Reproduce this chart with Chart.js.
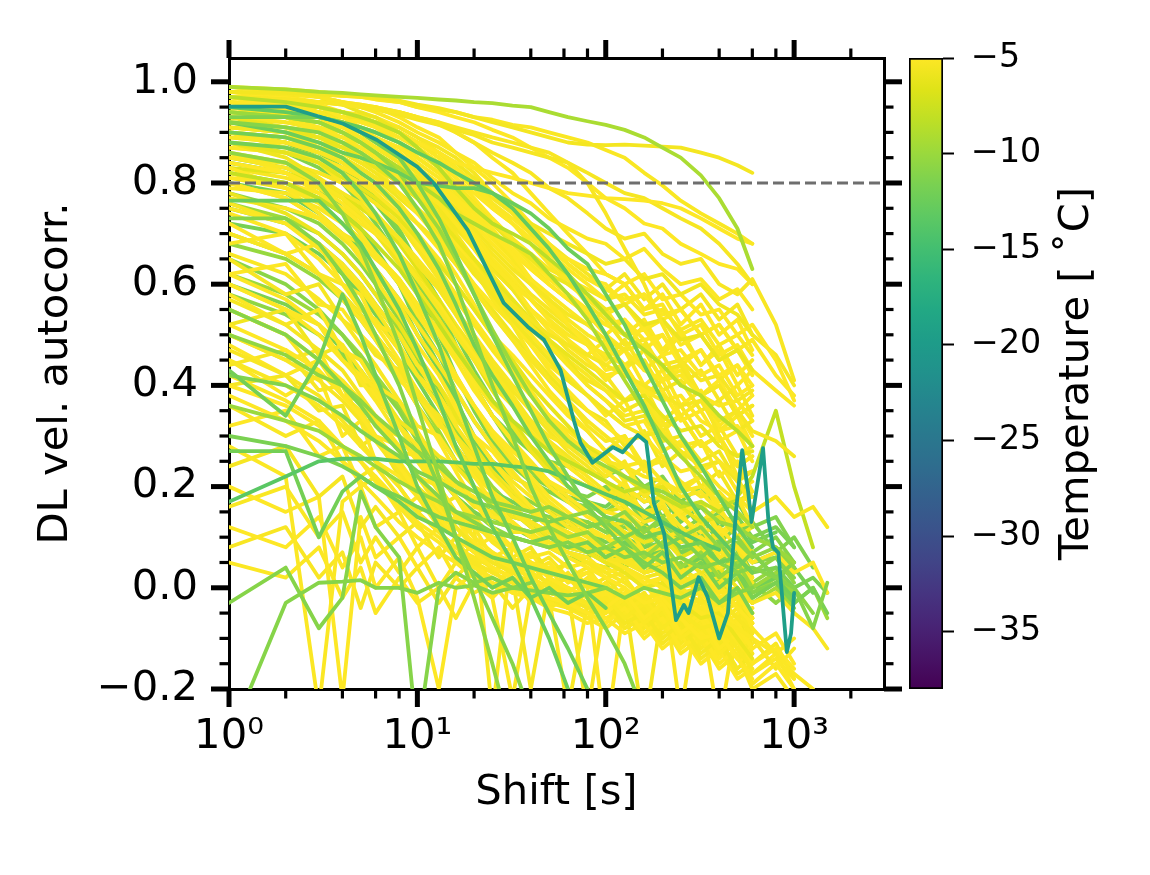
<!DOCTYPE html>
<html><head><meta charset="utf-8">
<script src="https://cdn.jsdelivr.net/npm/chart.js@4"></script>
<style>
html,body{margin:0;padding:0;background:#fff;}
#wrap{position:relative;width:1150px;height:875px;background:#fff;}
#main{position:absolute;left:0;top:0;}
#cbar{position:absolute;left:900px;top:0;}
</style>
</head><body>
<div id="wrap"><canvas id="main" width="1150" height="875"></canvas><canvas id="cbar" width="250" height="875"></canvas></div>
<script>
// ---------------- data ----------------
const shifts = [1,2,3,4,5,6,8,10,13,16,20,25,32,40,50,63,80,100,126,160,200,250,320,400,500,600,800,1000,1260,1500];

const outlierCurves = [
 [.99,.985,.98,.978,.975,.973,.97,.968,.965,.963,.96,.958,.953,.95,.94,.93,.922,.915,.905,.89,.87,.85,.815,.77,.71,.63],
 [.98,.978,.975,.972,.97,.968,.963,.955,.948,.94,.93,.92,.91,.9,.89,.88,.876,.875,.876,.874,.872,.87,.86,.85,.835,.82],
 [.98,.977,.975,.972,.97,.966,.96,.95,.945,.94,.93,.925,.915,.91,.9,.89,.88,.865,.85,.82,.795,.765,.74,.72,.7,.68],
 [.97,.965,.96,.955,.95,.945,.94,.93,.92,.91,.9,.89,.88,.87,.86,.84,.8,.74,.67,.6,.52,.45,.38,.3,.22,.15],
 [.96,.955,.95,.94,.93,.92,.9,.88,.86,.84,.83,.82,.81,.8,.79,.78,.775,.77,.768,.765,.76,.75,.73,.71,.69,.68],
 [.97,.965,.96,.955,.95,.945,.935,.925,.915,.905,.895,.88,.87,.86,.85,.84,.82,.8,.78,.77,.75,.73,.71,.68,.64,.6]
];
const outlierTemps = [-9.2,-5.5,-5.2,-5.3,-5,-5.4];

const yellowHighCurves = [
 [.99,.985,.98,.975,.97,.965,.96,.95,.94,.93,.92,.905,.89,.87,.85,.83,.8,.77,.75,.72,.71,.68,.66,.64,.63,.6],
 [.98,.975,.97,.96,.955,.95,.94,.93,.915,.9,.88,.86,.84,.82,.79,.77,.74,.71,.69,.7,.66,.64,.65,.6,.58,.61,.52,.41],
 [.99,.98,.97,.96,.95,.94,.92,.9,.88,.86,.84,.81,.78,.76,.73,.71,.69,.68,.65,.67,.63,.6,.61,.57,.59,.55],
 [.97,.96,.95,.94,.93,.92,.9,.88,.86,.84,.81,.78,.75,.72,.7,.68,.66,.64,.65,.61,.62,.58,.6,.56,.54,.5],
 [.98,.97,.955,.94,.93,.915,.89,.87,.84,.81,.78,.75,.72,.69,.67,.65,.63,.62,.6,.62,.57,.58,.54,.55,.5,.52,.45,.37],
 [.96,.95,.94,.92,.91,.9,.88,.85,.82,.79,.76,.72,.69,.66,.63,.61,.59,.57,.58,.54,.55,.51,.53,.48,.5,.46],
 [.99,.98,.97,.955,.94,.93,.9,.87,.83,.79,.76,.72,.68,.65,.62,.6,.58,.55,.56,.52,.53,.49,.5,.45,.47,.43],
 [.95,.94,.93,.91,.9,.88,.86,.83,.8,.77,.74,.7,.67,.63,.6,.57,.55,.52,.53,.49,.5,.45,.47,.42,.44,.4],
 [.97,.96,.94,.92,.9,.88,.85,.82,.78,.75,.71,.67,.63,.6,.57,.54,.52,.49,.47,.48,.44,.45,.41,.42,.37,.39],
 [.94,.93,.91,.89,.87,.85,.82,.79,.76,.72,.68,.64,.6,.57,.53,.5,.48,.46,.47,.43,.41,.42,.38,.36,.37,.33],
 [.98,.97,.95,.93,.91,.89,.86,.82,.78,.74,.69,.64,.6,.55,.51,.48,.45,.42,.43,.39,.37,.38,.33,.31,.32,.28],
 [.93,.91,.89,.87,.85,.83,.8,.77,.73,.69,.65,.61,.57,.53,.49,.46,.43,.4,.37,.38,.34,.31,.32,.28,.26,.27],
 [.96,.95,.93,.91,.89,.87,.84,.8,.76,.72,.67,.62,.57,.52,.48,.44,.4,.37,.34,.35,.31,.28,.29,.25,.22,.23],
 [.91,.9,.88,.86,.84,.82,.78,.75,.71,.67,.62,.58,.53,.49,.45,.41,.38,.35,.32,.3,.31,.27,.24,.25,.21,.18],
 [.97,.95,.93,.9,.88,.85,.81,.77,.72,.68,.63,.58,.53,.48,.43,.39,.35,.32,.29,.3,.26,.23,.24,.2,.17,.18],
 [.9,.88,.86,.84,.82,.8,.76,.72,.68,.64,.59,.54,.49,.45,.41,.37,.33,.3,.27,.24,.25,.21,.18,.19,.15,.12],
 [.95,.93,.9,.88,.85,.83,.78,.74,.69,.64,.59,.54,.49,.44,.39,.35,.31,.27,.24,.25,.21,.18,.19,.15,.12,.13],
 [.88,.86,.84,.81,.79,.77,.73,.69,.64,.6,.55,.5,.45,.4,.36,.32,.28,.25,.22,.19,.2,.16,.13,.14,.1,.07],
 [.92,.9,.87,.84,.81,.78,.73,.68,.63,.58,.53,.48,.43,.38,.34,.3,.26,.23,.2,.17,.18,.14,.11,.12,.08,.05],
 [.86,.84,.81,.78,.76,.73,.69,.64,.59,.54,.49,.44,.39,.35,.31,.27,.24,.21,.18,.15,.16,.12,.09,.1,.06,.03],
 [.9,.87,.84,.8,.77,.74,.69,.64,.59,.54,.48,.43,.38,.33,.29,.25,.22,.19,.16,.13,.14,.1,.07,.08,.04,.01],
 [.84,.82,.79,.76,.73,.7,.66,.61,.56,.51,.46,.41,.36,.31,.27,.24,.21,.18,.15,.12,.1,.11,.07,.04,.05,.01],
 [.88,.85,.81,.77,.73,.7,.64,.59,.53,.48,.42,.37,.32,.27,.23,.2,.17,.14,.11,.09,.1,.06,.03,.04,0,-.03],
 [.82,.79,.76,.72,.69,.66,.61,.56,.5,.45,.39,.34,.29,.25,.21,.18,.15,.12,.1,.07,.08,.04,.01,.02,-.02,-.05],
 [.86,.82,.78,.74,.7,.66,.6,.54,.48,.42,.36,.31,.26,.22,.18,.15,.12,.1,.07,.05,.06,.02,-.01,0,-.04,-.07],
 [.8,.77,.73,.69,.66,.62,.56,.5,.44,.39,.33,.28,.23,.19,.16,.13,.1,.08,.06,.03,.04,0,-.03,-.02,-.06,-.09],
 [.83,.79,.74,.7,.65,.61,.54,.48,.42,.36,.3,.25,.2,.16,.13,.1,.08,.06,.04,.01,.02,-.02,-.05,-.04,-.08,-.12],
 [.78,.74,.7,.66,.62,.58,.52,.46,.4,.34,.28,.23,.18,.15,.12,.09,.07,.05,.03,0,.01,-.03,-.06,-.05,-.1,-.14],
 [.76,.72,.67,.63,.59,.55,.48,.42,.36,.3,.24,.19,.15,.12,.09,.07,.05,.03,.01,-.02,-.01,-.05,-.08,-.07,-.12,-.16],
 [.74,.7,.65,.6,.56,.52,.45,.39,.33,.27,.22,.17,.13,.1,.08,.06,.04,.02,0,-.03,-.02,-.06,-.1,-.09,-.14,-.18],
 [.97,.97,.96,.96,.95,.95,.94,.93,.92,.9,.88,.85,.82,.78,.74,.7,.66,.62,.6,.55,.56,.5,.52,.46,.48,.43,.39,.36],
 [.95,.95,.94,.93,.93,.92,.91,.89,.87,.85,.82,.78,.74,.7,.65,.61,.56,.53,.48,.49,.43,.44,.38,.4,.34,.36],
 [.93,.93,.92,.91,.9,.89,.87,.85,.82,.79,.75,.71,.66,.61,.57,.52,.48,.43,.44,.38,.39,.33,.35,.29,.31,.25],
 [.91,.9,.89,.88,.87,.86,.83,.81,.77,.73,.69,.64,.59,.54,.49,.45,.4,.37,.33,.34,.29,.3,.25,.27,.21,.23],
 [.89,.88,.87,.86,.84,.83,.8,.77,.73,.68,.63,.57,.52,.46,.41,.37,.32,.29,.3,.24,.26,.2,.22,.16,.18,.12],
 [.87,.86,.85,.83,.81,.79,.76,.72,.67,.62,.56,.5,.44,.39,.34,.3,.27,.23,.24,.19,.2,.15,.17,.11,.13,.07],
 [.85,.84,.82,.8,.78,.76,.72,.67,.61,.55,.49,.43,.37,.32,.28,.24,.21,.18,.19,.14,.16,.1,.12,.06,.08,.02],
 [.83,.82,.8,.78,.75,.73,.68,.63,.57,.51,.45,.39,.33,.28,.24,.2,.17,.15,.16,.1,.12,.06,.08,.02,.03,-.03],
 [.81,.8,.78,.75,.72,.7,.65,.59,.53,.47,.4,.34,.29,.24,.2,.17,.14,.12,.13,.07,.09,.03,.05,-.02,0,-.06],
 [.79,.78,.75,.72,.69,.66,.61,.55,.48,.42,.36,.3,.25,.21,.17,.14,.12,.1,.11,.05,.07,0,.02,-.05,-.03,-.1],
 [.96,.955,.95,.94,.93,.92,.9,.88,.85,.82,.79,.76,.73,.7,.67,.64,.61,.59,.57,.58,.54,.55,.5,.52,.47,.49,.42,.38],
 [.94,.93,.92,.9,.89,.87,.85,.82,.79,.76,.73,.7,.66,.63,.6,.57,.54,.52,.5,.51,.46,.47,.42,.44,.38,.4],
 [.92,.91,.89,.88,.86,.84,.81,.78,.75,.71,.68,.64,.6,.57,.54,.51,.48,.46,.44,.45,.39,.41,.35,.37,.31,.33],
 [.9,.89,.87,.85,.83,.81,.78,.74,.71,.67,.63,.59,.55,.51,.48,.45,.42,.39,.37,.38,.32,.34,.28,.3,.24,.26],
 [.88,.87,.85,.83,.81,.79,.75,.72,.68,.64,.6,.56,.52,.48,.44,.41,.38,.35,.32,.33,.27,.29,.23,.25,.19,.21]
];
const yellowHighTemps = [-5,-5.3,-5.1,-5.6,-5,-5.2,-5.8,-5,-5.4,-5.1,-5,-6,-5.2,-5.5,-5,-5.3,-5.1,-6.2,-5,-5.4,-5.2,-5,-5.7,-5.1,-5,-5.3,-5,-5.9,-5.2,-5,-5.1,-5.4,-5,-5.6,-5.2,-5,-5.3,-6.5,-5,-5.2,-5.1,-5,-5.5,-5.2,-5];

const yellowExtraCurves = [
 [.96,.95,.94,.93,.92,.91,.89,.87,.84,.81,.77,.73,.69,.65,.61,.58,.55,.5,.53,.47,.5,.44,.47,.41,.44,.38],
 [.94,.935,.93,.92,.91,.9,.88,.85,.82,.78,.74,.7,.65,.61,.57,.53,.5,.48,.44,.47,.41,.43,.38,.4,.34,.36],
 [.92,.91,.9,.89,.88,.87,.85,.82,.78,.74,.7,.65,.61,.57,.53,.49,.45,.41,.44,.38,.41,.34,.37,.31,.34,.28],
 [.9,.89,.88,.87,.86,.84,.81,.78,.74,.7,.65,.6,.56,.52,.48,.44,.41,.39,.35,.37,.31,.34,.28,.3,.24,.26],
 [.95,.94,.93,.915,.9,.89,.86,.83,.8,.76,.72,.68,.64,.6,.56,.52,.48,.44,.47,.4,.43,.36,.39,.32,.35,.3],
 [.93,.92,.905,.89,.88,.86,.83,.8,.76,.72,.68,.63,.59,.55,.51,.47,.44,.42,.37,.4,.33,.36,.3,.32,.26,.28],
 [.91,.9,.89,.87,.86,.84,.8,.77,.73,.69,.64,.59,.54,.5,.46,.42,.38,.34,.37,.3,.33,.26,.29,.22,.25,.19],
 [.89,.88,.86,.85,.83,.81,.77,.74,.7,.65,.6,.55,.5,.46,.42,.38,.35,.33,.28,.31,.24,.27,.2,.23,.17,.19],
 [.87,.86,.84,.82,.8,.78,.74,.7,.65,.6,.55,.5,.46,.42,.38,.34,.31,.27,.3,.23,.26,.19,.22,.15,.18,.12],
 [.85,.84,.82,.8,.78,.76,.72,.67,.62,.57,.52,.47,.42,.38,.34,.31,.28,.26,.21,.24,.17,.2,.13,.16,.1,.12],
 [.97,.96,.95,.94,.935,.93,.91,.89,.86,.83,.8,.76,.72,.68,.64,.6,.57,.54,.56,.51,.53,.48,.5,.45,.47,.42],
 [.98,.975,.97,.96,.955,.95,.93,.91,.89,.86,.83,.8,.76,.72,.68,.64,.61,.6,.56,.58,.53,.55,.5,.52,.47,.49],
 [.83,.81,.79,.77,.75,.73,.69,.65,.6,.55,.5,.45,.4,.36,.32,.28,.25,.22,.25,.18,.21,.14,.17,.1,.13,.06],
 [.81,.79,.77,.75,.73,.7,.66,.62,.57,.52,.47,.42,.37,.33,.29,.26,.23,.21,.17,.19,.13,.15,.09,.11,.05,.07],
 [.77,.75,.73,.7,.68,.65,.61,.56,.51,.46,.41,.36,.32,.28,.25,.22,.2,.18,.21,.14,.17,.1,.13,.06,.08,.02],
 [.7,.66,.62,.57,.53,.49,.42,.36,.29,.23,.17,.12,.08,.05,.02,0,-.02,-.04,-.01,-.06,-.03,-.09,-.06,-.12,-.09,-.15,-.12,-.16],
 [.66,.62,.57,.53,.48,.44,.37,.31,.24,.18,.13,.09,.06,.03,.01,-.01,-.03,-.02,-.06,-.03,-.08,-.05,-.11,-.08,-.14,-.12],
 [.62,.57,.52,.48,.43,.39,.32,.26,.2,.15,.1,.07,.04,.02,0,-.02,-.03,-.05,-.02,-.07,-.04,-.1,-.07,-.13,-.1,-.17,-.14,-.18],
 [.57,.52,.47,.43,.38,.34,.28,.22,.17,.12,.08,.05,.03,.01,-.01,-.02,-.04,-.03,-.07,-.05,-.1,-.07,-.13,-.1,-.16,-.13],
 [.52,.47,.43,.38,.34,.3,.24,.19,.14,.1,.07,.04,.02,0,-.02,-.03,-.05,-.07,-.04,-.09,-.06,-.12,-.09,-.15,-.12,-.19,-.15,-.2],
 [.47,.42,.38,.33,.29,.25,.2,.15,.11,.08,.05,.03,.01,-.01,-.02,-.04,-.05,-.04,-.08,-.06,-.11,-.08,-.14,-.11,-.17,-.15],
 [.42,.37,.33,.28,.25,.21,.16,.12,.09,.06,.04,.02,0,-.02,-.03,-.04,-.06,-.08,-.05,-.1,-.07,-.13,-.1,-.16,-.13,-.2,-.17,-.22],
 [.38,.33,.29,.25,.21,.18,.13,.1,.07,.05,.03,.01,-.01,-.02,-.04,-.05,-.07,-.06,-.09,-.07,-.12,-.09,-.15,-.12,-.18,-.16]
];
const yellowExtraTemps = [-5,-5.2,-5.1,-5.4,-5,-5.3,-5.1,-5.6,-5,-5.2,-5.1,-5,-5.3,-5.5,-5.1,-5,-5.2,-5.1,-5.4,-5,-5.3,-5.1,-5];

const yellowTailCurves = [
 [.97,.96,.95,.94,.93,.92,.9,.88,.85,.82,.79,.75,.72,.69,.66,.63,.6,.57,.6,.55,.58,.52,.56,.5,.53,.47],
 [.96,.95,.94,.93,.92,.91,.88,.86,.83,.8,.76,.72,.68,.64,.6,.57,.54,.5,.47,.52,.46,.5,.44,.48,.42,.45],
 [.95,.94,.93,.92,.9,.89,.87,.84,.81,.77,.73,.69,.65,.61,.58,.55,.52,.55,.5,.53,.47,.51,.44,.47,.4,.43],
 [.93,.92,.91,.9,.88,.87,.84,.81,.78,.74,.7,.66,.62,.58,.55,.52,.49,.45,.49,.43,.46,.4,.43,.37,.4,.34],
 [.92,.91,.9,.88,.87,.85,.82,.79,.75,.71,.67,.63,.59,.55,.52,.49,.46,.49,.43,.47,.41,.44,.38,.41,.35,.38],
 [.95,.945,.94,.93,.925,.92,.9,.88,.86,.83,.8,.77,.74,.71,.68,.65,.62,.59,.62,.57,.6,.55,.58,.53,.56,.5,.46,.4],
 [.6,.55,.5,.45,.41,.37,.3,.25,.19,.14,.1,.07,.05,.03,.01,0,-.02,-.01,-.05,-.02,-.07,-.04,-.09,-.06,-.11,-.08,-.13,-.1],
 [.55,.5,.45,.41,.37,.33,.27,.22,.16,.12,.09,.06,.04,.02,0,-.01,-.03,-.05,-.02,-.06,-.04,-.08,-.05,-.1,-.07,-.12,-.09,-.15],
 [.5,.45,.41,.37,.33,.29,.23,.18,.13,.1,.07,.05,.03,.01,-.01,-.02,-.04,-.02,-.07,-.04,-.09,-.06,-.12,-.08,-.14,-.1,-.16,-.12],
 [.45,.4,.36,.32,.28,.25,.2,.15,.11,.08,.06,.04,.02,0,-.02,-.03,-.05,-.07,-.03,-.08,-.05,-.11,-.07,-.13,-.09,-.15,-.11,-.18],
 [.4,.36,.32,.28,.25,.22,.17,.13,.1,.07,.05,.03,.01,-.01,-.02,-.04,-.03,-.06,-.04,-.09,-.06,-.12,-.08,-.14,-.1,-.17,-.13,-.2]
];
const yellowTailTemps = [-5,-5.2,-5.1,-5.3,-5,-5.4,-5.1,-5,-5.3,-5.2,-5];

const yellowMidCurves = [
 [.72,.66,.68,.6,.58,.52,.5,.44,.4,.35,.3,.27,.22,.2,.16,.14,.11,.1,.08,.06,.05,.03,.02,-.01,0,-.03],
 [.68,.7,.62,.6,.55,.53,.47,.42,.38,.33,.3,.25,.21,.18,.15,.12,.1,.07,.08,.04,.05,.01,.03,-.02,0,-.05],
 [.65,.58,.6,.53,.5,.46,.43,.38,.34,.3,.26,.23,.19,.16,.13,.11,.09,.08,.05,.06,.02,.03,-.01,.01,-.04,-.02],
 [.62,.64,.56,.55,.5,.47,.41,.38,.32,.3,.25,.22,.18,.16,.12,.11,.08,.06,.07,.03,.04,0,.02,-.03,-.01,-.06],
 [.58,.52,.55,.47,.45,.4,.37,.32,.3,.25,.22,.19,.16,.13,.11,.09,.07,.05,.06,.03,.04,0,.01,-.03,-.02,-.06],
 [.52,.55,.46,.48,.4,.4,.33,.3,.26,.24,.2,.18,.14,.13,.1,.08,.07,.05,.04,.02,.03,-.01,0,-.04,-.02,-.07],
 [.48,.42,.45,.38,.37,.32,.3,.25,.24,.2,.18,.14,.13,.1,.09,.07,.06,.03,.04,0,.02,-.02,-.01,-.05,-.03,-.08],
 [.44,.47,.39,.4,.33,.33,.27,.26,.21,.2,.16,.15,.11,.11,.08,.07,.05,.04,.02,.02,0,0,-.03,-.02,-.06,-.04]
];
const yellowMidTemps = [-5,-5.2,-5.4,-5,-5.1,-5.6,-5,-5.3];

const yellowLowCurves = [
 [.6,.55,.52,.45,.42,.38,.32,.28,.22,.18,.14,.1,.08,.05,.04,.02,.03,0,-.02,.01,-.03,-.01,-.05,-.27,-.06,-.04],
 [.55,.5,.42,.4,.33,.3,.25,.2,.15,.12,.08,.06,.03,.05,0,.02,-.02,.01,-.04,-.01,-.06,-.02,-.08,-.05,-.1,-.07],
 [.5,.45,.47,.38,.35,.3,.28,.22,.2,.15,.12,.1,.08,.06,.07,.04,.05,.02,.03,0,.02,-.25,0,-.04,-.02,-.06],
 [.45,.38,.42,.3,.33,.25,.22,.18,.14,.1,.12,.06,.08,.03,.05,.01,.03,-.02,0,-.04,-.01,-.06,-.03,-.08,-.05,-.1],
 [.4,.42,.35,.36,.28,.3,.22,.2,.16,.18,.12,.1,.06,.08,.03,.05,0,.02,-.02,-.28,-.04,-.02,-.07,-.04,-.09,-.06],
 [.36,.3,.33,.25,.22,.24,.18,.15,.17,.1,.12,-.25,.09,.04,.06,.02,.04,-.01,.02,-.03,0,-.05,-.02,-.07,-.04,-.09],
 [.32,.35,.26,.28,.2,.22,.15,.18,.12,.14,.08,.1,.05,.07,.02,.05,0,-.3,-.02,.01,-.04,-.01,-.06,-.03,-.08,-.05],
 [.28,.22,-.24,.17,.2,.12,.15,.08,.12,.05,.09,.03,.06,.01,.04,-.01,.02,-.03,0,-.05,-.02,-.07,-.04,-.09,-.06,-.12],
 [.24,.28,.18,.22,.12,.16,.1,.13,.06,.1,.04,.07,.02,-.2,0,.03,-.02,.01,-.04,-.01,-.06,-.03,-.08,-.05,-.1,-.07],
 [.2,.15,.18,-.22,.14,.06,.1,.04,.08,.02,.06,0,.04,-.02,.02,-.03,.01,-.04,-.01,-.06,-.03,-.08,-.05,-.1,-.07,-.12],
 [.16,.2,.1,.15,.05,.1,.03,.08,0,.05,.02,.04,-.01,.03,-.02,-.24,-.03,0,-.05,-.02,-.06,-.04,-.09,-.06,-.11,-.08],
 [.12,.08,.14,.04,.1,0,.06,-.02,-.2,0,.03,-.02,.02,-.03,0,-.04,-.01,-.05,-.02,-.07,-.04,-.09,-.06,-.11,-.08,-.13],
 [.08,.12,.02,.07,-.04,.05,0,.04,-.03,.02,-.01,.01,-.04,0,-.03,-.01,-.25,-.02,-.06,-.03,-.08,-.05,-.1,-.07,-.12,-.09],
 [.05,.02,.08,-.02,.04,-.05,.02,-.03,0,-.06,.01,-.02,-.22,-.01,-.04,-.02,-.06,-.03,-.08,-.05,-.1,-.07,-.12,-.09,-.14,-.11]
];
const yellowLowTemps = [-5,-5.3,-5.1,-5,-5.5,-5.2,-5,-5.1,-5.4,-5,-5.2,-5,-5.3,-5.1];

const longCurves = [
 [.85,.83,.8,.77,.74,.71,.66,.61,.55,.5,.45,.4,.36,.33,.3,.28,.27,.25,.24,.22,.21,.19,.2,.17,.18,.15,.18,.14,.16,.12],
 [.8,.77,.73,.7,.66,.63,.57,.52,.46,.41,.36,.31,.27,.24,.21,.19,.17,.15,.14,.12,.11,.09,.1,.07,.08,.05,.07,.03,.05,-.01],
 [.7,.66,.62,.58,.54,.5,.44,.39,.33,.28,.23,.19,.16,.13,.11,.09,.08,.06,.05,.03,.04,.01,.02,-.01,0,-.03,-.01,-.05,-.08,-.12],
 [.75,.72,.68,.64,.6,.56,.5,.44,.38,.32,.27,.22,.18,.15,.12,.1,.08,.06,.04,.02,0,-.02,-.04,-.06,-.08,-.1,-.13,-.17,-.2],
 [.9,.89,.87,.85,.83,.81,.78,.75,.71,.67,.63,.59,.56,.53,.5,.48,.46,.44,.42,.4,.38,.36,.37,.33,.35,.31,.29,.26],
 [.82,.8,.77,.74,.71,.68,.63,.58,.52,.47,.42,.37,.33,.3,.27,.25,.23,.21,.19,.2,.18,.16,.17,.15,.18,.22,.35,.2,.08]
];
const longTemps = [-5.2,-5,-5.3,-5.1,-5.4,-8];

// distinct green lines drawn above the yellow mass
const greenTopCurves = [
 [.88,.87,.85,.82,.78,.74,.66,.58,.48,.38,.28,.18,.1,.02,-.05,-.12,-.2,-.3],
 [.92,.91,.9,.88,.86,.84,.8,.75,.68,.6,.5,.4,.3,.2,.12,.05,-.02,-.08,-.15,-.25],
 [.765,.765,.765,.72,.68,.63,.55,.47,.37,.28,.2,.12,.05,-.02,-.1,-.2,-.3],
 [.73,.73,.68,.62,.56,.5,.4,.3,.2,.1,.02,-.06,-.15,-.25],
 [.93,.93,.93,.92,.9,.88,.85,.8,.73,.66,.58,.5,.42,.35,.28,.22,.16,.12,.08,.05,.03,0,.02,-.03,0,-.05],
 [.86,.84,.8,.74,.67,.6,.48,.36,.22,.1,-.02,-.15,-.3],
 [.9,.89,.87,.85,.82,.8,.75,.7,.63,.56,.48,.42,.36,.3,.25,.2,.17,.14,.13,.1,.11,.08,.09,.05,.06,.03],
 [.43,.34,.45,.58,.5,.42,.3,.2,.12,.06,.03,0,.02,-.02,0,-.03,-.01,-.04],
 [.95,.94,.93,.92,.91,.9,.88,.86,.84,.82,.8,.78,.75,.71,.67,.62,.56,.5,.43,.36,.28,.2,.14,.1,.06,.03],
 [.92,.9,.88,.86,.85,.84,.82,.8,.795,.79,.79,.78,.76,.74,.71,.67,.64,.58,.52,.44,.37,.3,.24,.18,.12,.08],
 [.17,.22,.25,.255,.255,.255,.25,.25,.25,.248,.245,.245,.24,.237,.23,.215,.2,.185,.17,.15,.13,.11,.09,.075],
 [-.3,-.03,.01,.012,.015,0,0,-.01,.01,0,.005,-.01,0,-.005,-.01,-.015,-.01,0,-.02,0,-.01,-.02,0,-.03,-.01,0],
 [-.03,.04,-.08,-.02,.19,.12,.06,-.3,0,.03,.01,.02,0,.01],
 [.27,.27,.1,.19,.22,.2,.17,.14,.12,.1,.08,.06,.05,.04,.03,.02,.01,0],
 [.94,.93,.92,.9,.88,.86,.82,.77,.71,.65,.58,.51,.44,.38,.33,.29,.26,.24,.22,.2,.19,.17,.16,.13,.12,.1,.08,.05],
 [.55,.5,.45,.4,.36,.32,.27,.22,.18,.15,.13,.11,.1,.09,.08,.09,.07,.08,.06,.07,.05,.06,.04,.05,.03,.04,.02,0,-.08,.01],
 [.97,.96,.95,.94,.93,.92,.9,.87,.83,.79,.75,.72,.7,.68,.65,.62,.58,.54,.5,.47,.44,.4,.38,.34,.31,.28],
 [.94,.93,.92,.9,.88,.86,.83,.8,.77,.74,.72,.7,.68,.66,.62,.58,.53,.47,.41,.35,.3,.26,.22,.18,.15,.12],
 [.5,.46,.42,.4,.37,.34,.3,.27,.24,.21,.19,.17,.16,.15,.16,.14,.15,.13,.15,.11,.14,.1,.12,.08,.1,.06,.08,.04],
 [.42,.4,.37,.34,.31,.29,.26,.23,.21,.19,.17,.16,.15,.14,.13,.14,.12,.13,.1,.12,.08,.1,.06,.09,.04,.07,.02,.05],
 [.36,.33,.31,.28,.26,.24,.21,.19,.17,.15,.14,.13,.12,.11,.12,.1,.11,.08,.1,.06,.09,.04,.07,.02,.05,0,.03,-.01],
 [.3,.28,.26,.24,.22,.2,.18,.16,.14,.13,.12,.11,.1,.09,.1,.08,.09,.06,.08,.04,.07,.02,.05,0,.03,-.02,.01,-.03,0,-.05]
];
const greenTopTemps = [-12,-11,-12.5,-11,-11.5,-10.5,-12,-12,-13,-12.5,-13.5,-11,-11,-12,-10,-11,-8.5,-9,-10.5,-11.2,-10,-11.6];

// green lines of the lower-right band, drawn beneath the yellow mass
const greenBandCurves = [
 [.9,.88,.85,.82,.79,.76,.7,.64,.57,.5,.43,.37,.31,.27,.24,.22,.2,.19,.2,.17,.18,.15,.16,.13,.14,.1,.12,.08],
 [.85,.83,.8,.77,.74,.71,.66,.6,.54,.47,.4,.34,.28,.23,.2,.17,.15,.13,.15,.11,.13,.09,.11,.07,.09,.05,.07,.03],
 [.8,.78,.74,.7,.67,.63,.57,.5,.43,.36,.29,.24,.19,.15,.12,.1,.09,.07,.09,.06,.08,.04,.06,.02,.04,0,.02,-.02],
 [.75,.72,.68,.64,.6,.56,.5,.43,.36,.3,.24,.19,.15,.12,.1,.09,.07,.06,.08,.05,.07,.03,.05,.01,.03,-.01,.01,-.03],
 [.7,.66,.62,.58,.54,.5,.44,.38,.31,.25,.2,.16,.12,.1,.08,.06,.05,.04,.06,.03,.05,.01,.03,-.01,.02,-.03,0,-.05],
 [.6,.56,.52,.47,.43,.39,.33,.27,.22,.18,.15,.13,.12,.11,.12,.1,.11,.09,.1,.08,.09,.07,.08,.05,.06,.03,.04,0,.02,-.01],
 [.65,.6,.55,.5,.45,.41,.35,.29,.24,.2,.17,.15,.14,.13,.14,.12,.13,.11,.12,.1,.11,.09,.1,.07,.08,.05,.06,.02],
 [.82,.8,.77,.74,.7,.66,.6,.53,.46,.39,.33,.28,.24,.21,.19,.17,.16,.15,.18,.13,.16,.11,.14,.09,.12,.07,.1,.05],
 [.78,.75,.72,.68,.64,.6,.53,.46,.39,.32,.26,.22,.19,.17,.15,.14,.13,.11,.14,.09,.12,.07,.1,.05,.08,.03,.06,.01],
 [.72,.7,.66,.62,.58,.54,.47,.41,.34,.28,.23,.19,.17,.15,.14,.13,.12,.14,.1,.13,.08,.11,.06,.09,.04,.07,.02,.04,-.01],
 [.68,.65,.61,.57,.53,.49,.42,.36,.3,.25,.2,.17,.15,.14,.13,.12,.11,.1,.13,.08,.11,.06,.09,.03,.07,.01,.04,-.02],
 [.88,.86,.83,.8,.76,.72,.65,.58,.5,.42,.35,.29,.25,.22,.2,.19,.18,.2,.16,.19,.14,.17,.12,.15,.1,.13,.07,.1,.04],
 [.62,.58,.54,.5,.46,.42,.36,.3,.25,.21,.17,.14,.12,.1,.09,.08,.07,.06,.09,.04,.07,.02,.05,0,.03,-.02,.01,-.04],
 [.84,.82,.79,.75,.71,.67,.6,.52,.44,.37,.3,.25,.22,.2,.19,.18,.17,.16,.19,.15,.18,.13,.16,.12,.14,.09,.11],
 [.58,.54,.5,.46,.42,.38,.32,.27,.22,.18,.15,.12,.1,.09,.08,.07,.06,.08,.04,.07,.02,.05,0,.03,-.02,.01,-.03,0,-.05],
 [.9,.88,.86,.83,.8,.77,.71,.64,.56,.48,.4,.34,.3,.27,.25,.24,.23,.22,.24,.2,.22,.17,.2,.15,.17,.12,.14,.08],
 [.76,.73,.7,.66,.62,.58,.51,.45,.38,.31,.25,.2,.16,.13,.11,.1,.09,.07,.1,.05,.08,.03,.06,.01,.04,-.01,.02,-.03,0,-.06]
];
const greenBandTemps = [-11.5,-10.5,-12,-11,-9.5,-11.5,-10.8,-11,-10.5,-11.8,-10.2,-11.3,-10,-12,-10.6,-11.2,-9.8];

const tealShift = [1,2,4.04,6.1,10,12.2,18.5,28.7,38.5,47,57.6,67.8,73.6,85,109,123,148,164,180,204,236,260,275,311,347,400,445,494,530,570,594,684,730,773,825,915,963,1000];
const tealValue = [.951,.951,.917,.885,.832,.80,.707,.563,.516,.49,.43,.33,.286,.247,.278,.268,.302,.288,.168,.108,-.064,-.034,-.05,.021,-.018,-.1,-.05,.16,.272,.19,.13,.276,.134,.08,.069,-.127,-.09,-.01];
const tealTemp = -19.5;

const thresholdValue = 0.8;
const xRange = [1, 3000];
const yRange = [-0.2, 1.047];
const xLabelTicks = [1, 10, 100, 1000];
const xMinorTicks = [2,4,6,8,20,40,60,80,200,400,600,800,2000];
const yMajorTicks = [-0.2, 0, 0.2, 0.4, 0.6, 0.8, 1.0];
const yMinorTicks = [-0.15,-0.1,-0.05,0.05,0.1,0.15,0.25,0.3,0.35,0.45,0.5,0.55,0.65,0.7,0.75,0.85,0.9,0.95];
const cbRange = [-38, -5];
const cbTicks = [-35, -30, -25, -20, -15, -10, -5];
const viridisStops = ['#440154','#471365','#482475','#463480','#414487','#3b528b','#355f8d','#2f6c8e','#2a788e','#25848e','#21918c','#1e9c89','#22a884','#2fb47c','#44bf70','#5ec962','#7ad151','#9bd93c','#bddf26','#dfe318','#fde725'];

// ---------------- helpers ----------------
const FONT = 'DejaVu Sans';
Chart.defaults.font.family = FONT;
Chart.defaults.color = '#000';
const minus = s => s.replace('-', '\u2212');
function hexToRgb(h){ return [parseInt(h.slice(1,3),16), parseInt(h.slice(3,5),16), parseInt(h.slice(5,7),16)]; }
function tempColor(temp){
  let t = (temp - cbRange[0]) / (cbRange[1] - cbRange[0]);
  t = Math.max(0, Math.min(1, t));
  const f = t * (viridisStops.length - 1);
  const i = Math.min(Math.floor(f), viridisStops.length - 2);
  const a = hexToRgb(viridisStops[i]), b = hexToRgb(viridisStops[i+1]);
  const k = f - i;
  const c = a.map((v, j) => Math.round(v + (b[j] - v) * k));
  return `rgb(${c[0]},${c[1]},${c[2]})`;
}

const LW = 3.8;
const datasets = [];
function lineDs(points, color, width, order, extra){
  return Object.assign({
    data: points, borderColor: color, borderWidth: width, pointRadius: 0,
    tension: 0, fill: false, order: order, clip: 0,
    borderJoinStyle: 'round', borderCapStyle: 'round',
    xAxisID: 'x', yAxisID: 'y'
  }, extra || {});
}
function addGroup(curves, temps, order){
  curves.forEach((vals, i) => {
    const pts = [];
    vals.forEach((v, j) => { if (j < shifts.length) pts.push({x: shifts[j], y: v}); });
    datasets.push(lineDs(pts, tempColor(temps[i]), LW, order));
  });
}
datasets.push(lineDs([{x: xRange[0], y: thresholdValue}, {x: xRange[1], y: thresholdValue}], '#6e6e6e', 3, 0, {borderDash: [11, 5], borderCapStyle: 'butt'}));
datasets.push(lineDs(tealShift.map((s, i) => ({x: s, y: tealValue[i]})), tempColor(tealTemp), LW, 1));
addGroup(greenTopCurves, greenTopTemps, 2);
addGroup(outlierCurves, outlierTemps, 3);
addGroup(longCurves, longTemps, 4);
addGroup(yellowHighCurves, yellowHighTemps, 5);
addGroup(yellowExtraCurves, yellowExtraTemps, 6);
addGroup(yellowTailCurves, yellowTailTemps, 6);
addGroup(yellowMidCurves, yellowMidTemps, 7);
addGroup(yellowLowCurves, yellowLowTemps, 8);
addGroup(greenBandCurves, greenBandTemps, 9);

const supDigits = {'0':'\u2070','1':'\u00b9','2':'\u00b2','3':'\u00b3'};

const tickMarks = {
  id: 'tickMarks',
  afterDraw(chart){
    const {ctx, chartArea: a} = chart;
    const sx = chart.scales.x, sy = chart.scales.y;
    ctx.save();
    ctx.strokeStyle = '#000';
    ctx.lineCap = 'butt';
    const seg = (x1, y1, x2, y2, w) => { ctx.lineWidth = w; ctx.beginPath(); ctx.moveTo(x1, y1); ctx.lineTo(x2, y2); ctx.stroke(); };
    [[xLabelTicks, 18, 5], [xMinorTicks, 9.5, 3.2]].forEach(([list, len, w]) => list.forEach(v => {
      const p = sx.getPixelForValue(v);
      if (p < a.left - 1 || p > a.right + 1) return;
      seg(p, a.bottom, p, a.bottom + len, w);
      seg(p, a.top, p, a.top - len, w);
    }));
    [[yMajorTicks, 18, 5], [yMinorTicks, 9.5, 3.2]].forEach(([list, len, w]) => list.forEach(v => {
      const p = sy.getPixelForValue(v);
      seg(a.left, p, a.left - len, p, w);
      seg(a.right, p, a.right + len, p, w);
    }));
    ctx.restore();
  }
};

const axisBorder = {display: true, color: '#000', width: 3};
const noGrid = {drawOnChartArea: false, drawTicks: false, color: 'rgba(0,0,0,0)'};

new Chart(document.getElementById('main'), {
  type: 'line',
  data: {datasets},
  options: {
    responsive: false, animation: false, devicePixelRatio: 1, events: [],
    layout: {padding: 0},
    plugins: {legend: {display: false}, tooltip: {enabled: false}},
    scales: {
      x: {
        type: 'logarithmic', axis: 'x', position: 'bottom', min: xRange[0], max: xRange[1], z: 1,
        border: axisBorder, grid: noGrid,
        afterBuildTicks: s => { s.ticks = xLabelTicks.map(v => ({value: v})); },
        afterFit: s => { s.height = 186; },
        ticks: {autoSkip: false, maxRotation: 0, padding: 23, color: '#000', font: {size: 41.7},
          callback: v => '10' + supDigits[String(Math.round(Math.log10(v)))]},
        title: {display: true, text: 'Shift [s]', color: '#000', font: {size: 41.7}, padding: {top: 0, bottom: 57}}
      },
      x2: {
        type: 'logarithmic', axis: 'x', position: 'top', min: xRange[0], max: xRange[1], z: 1,
        border: axisBorder, grid: noGrid, ticks: {display: false},
        afterFit: s => { s.height = 58; }
      },
      y: {
        type: 'linear', axis: 'y', position: 'left', min: yRange[0], max: yRange[1], z: 1,
        border: axisBorder, grid: noGrid,
        afterBuildTicks: s => { s.ticks = yMajorTicks.map(v => ({value: v})); },
        afterFit: s => { s.width = 229; },
        ticks: {autoSkip: false, padding: 31, color: '#000', font: {size: 41.7},
          callback: v => minus(Number(v).toFixed(1))},
        title: {display: true, text: 'DL vel. autocorr.', color: '#000', font: {size: 41.7}, padding: {top: 31, bottom: 0}}
      },
      y2: {
        type: 'linear', axis: 'y', position: 'right', min: yRange[0], max: yRange[1], z: 1,
        border: axisBorder, grid: noGrid, ticks: {display: false},
        afterFit: s => { s.width = 266; }
      }
    }
  },
  plugins: [tickMarks]
});

// ---------------- colorbar ----------------
const cbTitle = {
  id: 'cbTitle',
  afterDraw(chart){
    const ctx = chart.ctx, a = chart.chartArea;
    ctx.save();
    ctx.translate(188, (a.top + a.bottom) / 2);
    ctx.rotate(-Math.PI / 2);
    ctx.fillStyle = '#000';
    ctx.font = '41.7px "DejaVu Sans"';
    ctx.textAlign = 'center';
    ctx.textBaseline = 'alphabetic';
    ctx.fillText('Temperature [ \u02daC]', 0, 0);
    ctx.restore();
  }
};

new Chart(document.getElementById('cbar'), {
  type: 'bar',
  data: {
    labels: ['T'],
    datasets: [{
      data: [[cbRange[0], cbRange[1]]],
      backgroundColor: c => {
        const a = c.chart.chartArea;
        if (!a) return viridisStops[viridisStops.length - 1];
        const g = c.chart.ctx.createLinearGradient(0, a.bottom, 0, a.top);
        viridisStops.forEach((col, i) => g.addColorStop(i / (viridisStops.length - 1), col));
        return g;
      },
      borderColor: '#000', borderWidth: 2, borderSkipped: false,
      barPercentage: 1, categoryPercentage: 1
    }]
  },
  options: {
    responsive: false, animation: false, devicePixelRatio: 1, events: [],
    layout: {padding: {left: 9, top: 58, bottom: 186, right: 0}},
    plugins: {legend: {display: false}, tooltip: {enabled: false}},
    scales: {
      x: {display: false},
      y: {
        position: 'right', min: cbRange[0], max: cbRange[1],
        border: {display: false},
        grid: {drawOnChartArea: false, drawTicks: true, tickLength: 11, tickWidth: 2, tickColor: '#000'},
        afterBuildTicks: s => { s.ticks = cbTicks.map(v => ({value: v})); },
        afterFit: s => { s.width = 207; },
        ticks: {autoSkip: false, padding: 17, color: '#000', font: {size: 33.3},
          callback: v => minus(String(v))}
      }
    }
  },
  plugins: [cbTitle]
});
</script>
</body></html>
